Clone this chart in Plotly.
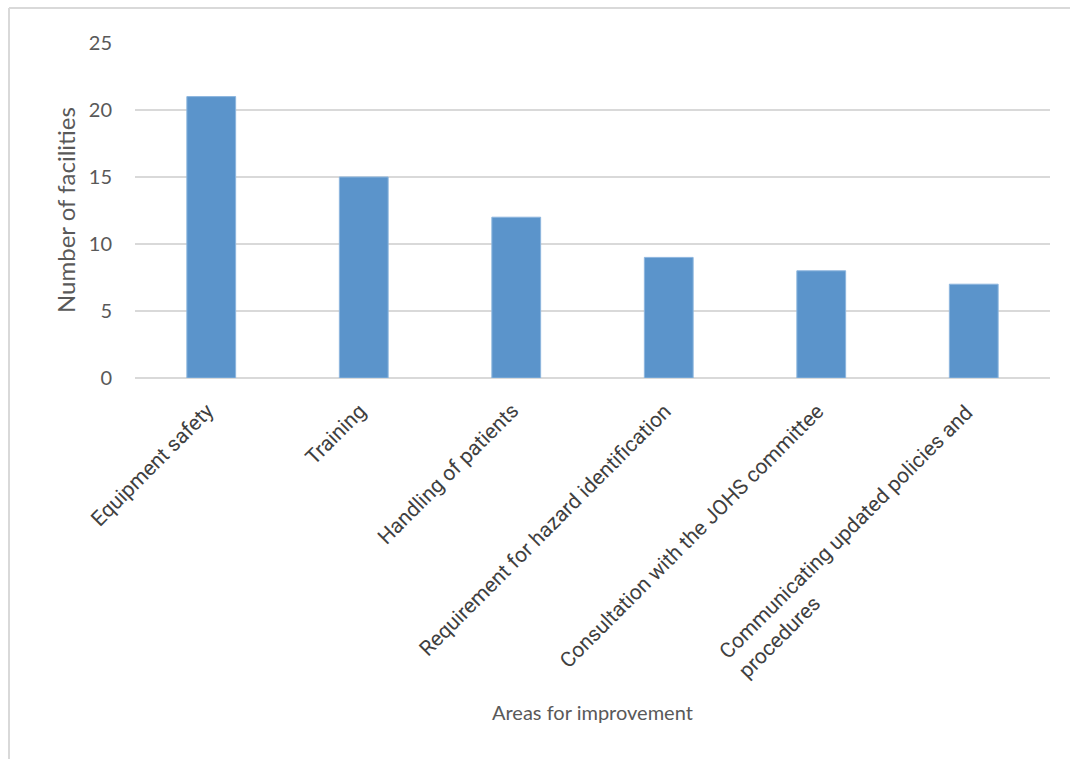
import plotly.graph_objects as go

categories = [
    "Equipment safety",
    "Training",
    "Handling of patients",
    "Requirement for hazard identification",
    "Consultation with the JOHS committee",
    "Communicating updated policies and<br>procedures",
]
values = [21, 15, 12, 9, 8, 7]
y_ticks = [0, 5, 10, 15, 20, 25]

W, H = 1070, 759
L, R, T, B = 135, 20, 43, 381
pw, ph = W - L - R, H - T - B

def px(x):
    return (x - L) / pw

def py(y):
    return (H - B - y) / ph

fig = go.Figure(go.Bar(
    x=categories, y=values,
    marker=dict(color="#5B94CB", line=dict(color="#8DB6DE", width=1)),
    width=0.32,
))

annotations = []
for c in categories:
    multi = "<br>" in c
    annotations.append(dict(
        x=c, xref="x", y=0, yref="y",
        yshift=-20 if multi else -18, xshift=26 if multi else 10,
        xanchor="right", yanchor="top", textangle=-45, align="left",
        text=c, showarrow=False,
        font=dict(family="Roboto", size=21, color="#404040"),
    ))
annotations.append(dict(
    x=px(592), xref="paper", y=py(712), yref="paper",
    xanchor="center", yanchor="middle", showarrow=False,
    text="Areas for improvement", font=dict(family="Lato", size=20, color="#595959"),
))
annotations.append(dict(
    x=px(65), xref="paper", y=py(210), yref="paper",
    xanchor="center", yanchor="middle", showarrow=False, textangle=-90,
    text="Number of facilities", font=dict(family="Lato", size=24, color="#595959"),
))

fig.update_layout(
    width=W, height=H,
    margin=dict(l=L, r=R, t=T, b=B, autoexpand=False),
    paper_bgcolor="white", plot_bgcolor="white",
    showlegend=False,
    font=dict(family="Lato", color="#595959"),
    xaxis=dict(
        range=[-0.5, len(categories) - 0.5],
        showticklabels=False,
        showgrid=False, showline=False, ticks="",
        automargin=False,
    ),
    yaxis=dict(
        range=[0, 25], tickvals=y_ticks,
        tickfont=dict(family="Lato", size=20, color="#595959"),
        gridcolor="#D9D9D9", gridwidth=2,
        zeroline=True, zerolinecolor="#D9D9D9", zerolinewidth=2,
        ticks="", ticklabelstandoff=22,
        automargin=False,
    ),
    annotations=annotations,
    shapes=[
        dict(type="line", xref="paper", yref="paper", x0=px(9), x1=px(W), y0=py(8), y1=py(8),
             line=dict(color="#D9D9D9", width=2)),
        dict(type="line", xref="paper", yref="paper", x0=px(9), x1=px(9), y0=py(8), y1=py(H),
             line=dict(color="#D9D9D9", width=2)),
    ],
)

fig.write_html("out.html")
